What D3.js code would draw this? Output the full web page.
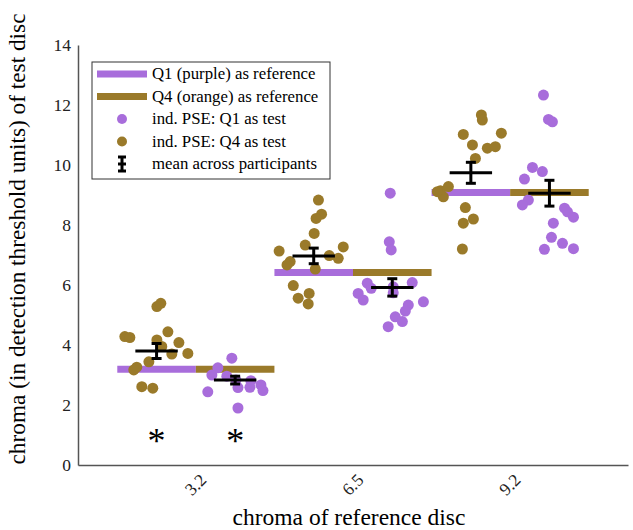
<!DOCTYPE html>
<html>
<head>
<meta charset="utf-8">
<style>
  body { margin: 0; background: #fff; }
  svg text { font-family: "Liberation Serif", "DejaVu Serif", serif !important; }
</style>
</head>
<body>
<script src="https://cdn.jsdelivr.net/npm/d3@7"></script>
<script>
// categories (chroma of reference disc)
var categories = ["3.2", "6.5", "9.2"];
// reference levels drawn as horizontal bars
var refLevels = [3.19, 6.42, 9.08];

// individual PSE, Q4 (orange) as test: value + jitter offset from category (in category units)
var q4Values = [
  [5.28, 5.39, 4.28, 4.25, 4.44, 4.17, 4.08, 3.72, 3.70, 3.95, 3.44, 3.26, 3.17, 2.61, 2.56],
  [8.83, 8.36, 8.22, 7.72, 7.33, 7.13, 7.27, 6.98, 6.89, 6.78, 6.67, 6.53, 5.98, 5.72, 5.56, 5.37],
  [11.67, 11.5, 11.02, 11.06, 10.67, 10.56, 10.61, 10.22, 9.14, 9.28, 8.94, 9.11, 8.58, 8.2, 8.06, 7.2]
];
var q4Jitter = [
  [-0.248, -0.223, -0.452, -0.42, -0.178, -0.248, -0.108, -0.051, -0.153, -0.217, -0.299, -0.376, -0.395, -0.344, -0.274],
  [-0.22, -0.20, -0.235, -0.247, -0.304, -0.47, -0.062, -0.151, -0.094, -0.40, -0.42, -0.24, -0.38, -0.279, -0.349, -0.285],
  [-0.183, -0.177, -0.298, -0.056, -0.24, -0.145, -0.094, -0.221, -0.444, -0.393, -0.425, -0.463, -0.285, -0.234, -0.298, -0.304]
];

// individual PSE, Q1 (purple) as test
var q1Values = [
  [3.56, 3.24, 3.0, 2.96, 2.44, 2.58, 2.81, 2.59, 2.67, 2.48, 1.9, 2.83],
  [9.06, 7.44, 7.17, 6.06, 5.89, 5.72, 5.5, 5.94, 5.74, 6.08, 5.44, 5.33, 5.13, 4.94, 4.78, 4.61],
  [12.33, 11.52, 11.44, 9.92, 9.78, 9.53, 8.83, 8.67, 8.56, 8.44, 8.26, 8.06, 7.59, 7.39, 7.19, 7.21]
];
var q1Jitter = [
  [0.229, 0.14, 0.102, 0.197, 0.076, 0.268, 0.35, 0.344, 0.414, 0.427, 0.268, 0.255],
  [0.237, 0.231, 0.243, 0.091, 0.116, 0.033, 0.065, 0.256, 0.256, 0.377, 0.448, 0.352, 0.333, 0.269, 0.314, 0.224],
  [0.212, 0.244, 0.269, 0.142, 0.205, 0.091, 0.116, 0.078, 0.346, 0.365, 0.403, 0.275, 0.263, 0.333, 0.218, 0.403]
];

// means across participants and error bars
var q4Mean = [3.80, 6.97, 9.74];
var q4Err = [0.25, 0.26, 0.35];
var q1Mean = [2.83, 5.92, 9.06];
var q1Err = [0.13, 0.29, 0.43];

// significance markers (category index, side)
var stars = [[0, -0.25], [0, 0.25]];

var yTicks = [0, 2, 4, 6, 8, 10, 12, 14];

var purple = "#a86ddb", gold = "#9a7a2a";
var width = 633, height = 530;
var margin = { left: 78, right: 5, top: 45, bottom: 65 };
var serif = "'Liberation Serif', 'DejaVu Serif', serif";

var svg = d3.select("body").append("svg")
  .attr("width", width).attr("height", height);

var x = d3.scaleLinear().domain([0.25, 3.75]).range([margin.left, width - margin.right]);
var y = d3.scaleLinear().domain([0, 14]).range([height - margin.bottom, margin.top]);

// axes
var xAxis = svg.append("g")
  .attr("transform", "translate(0," + y(0) + ")")
  .call(d3.axisBottom(x).tickValues([1, 2, 3]).tickFormat(function (d) { return categories[d - 1]; }).tickSize(0).tickSizeOuter(0));
xAxis.attr("font-family", serif);
xAxis.select(".domain").attr("stroke", "#555").attr("stroke-width", 1.5);
xAxis.selectAll("text")
  .style("font-family", serif)
  .attr("font-size", 17.5).attr("fill", "#222")
  .attr("text-anchor", "end")
  .attr("dy", 0)
  .attr("transform", "translate(9,14) rotate(-45)");

var yAxis = svg.append("g")
  .attr("transform", "translate(" + x(0.25) + ",0)")
  .call(d3.axisLeft(y).tickValues(yTicks).tickSize(0).tickSizeOuter(0).tickPadding(7));
yAxis.attr("font-family", serif);
yAxis.select(".domain").attr("stroke", "#555").attr("stroke-width", 1.5);
yAxis.selectAll("text").style("font-family", serif).attr("font-size", 17.5).attr("fill", "#222");

svg.append("text")
  .attr("transform", "translate(25,239) rotate(-90)")
  .attr("text-anchor", "middle")
  .attr("font-size", 23.3)
  .text("chroma (in detection threshold units) of test disc");

svg.append("text")
  .attr("x", 349).attr("y", 525)
  .attr("text-anchor", "middle")
  .attr("font-size", 23.5)
  .text("chroma of reference disc");

// reference bars
var refs = svg.append("g");
categories.forEach(function (c, i) {
  var cx = i + 1;
  refs.append("line")
    .attr("x1", x(cx - 0.5)).attr("x2", x(cx))
    .attr("y1", y(refLevels[i])).attr("y2", y(refLevels[i]))
    .attr("stroke", purple).attr("stroke-width", 7);
  refs.append("line")
    .attr("x1", x(cx)).attr("x2", x(cx + 0.5))
    .attr("y1", y(refLevels[i])).attr("y2", y(refLevels[i]))
    .attr("stroke", gold).attr("stroke-width", 7);
});

// individual dots
function dots(values, jitter, color) {
  var pts = [];
  values.forEach(function (arr, i) {
    arr.forEach(function (v, j) { pts.push({ x: i + 1 + jitter[i][j], y: v }); });
  });
  svg.append("g").selectAll("circle").data(pts).enter().append("circle")
    .attr("cx", function (d) { return x(d.x); })
    .attr("cy", function (d) { return y(d.y); })
    .attr("r", 5.5)
    .attr("fill", color);
}
dots(q4Values, q4Jitter, gold);
dots(q1Values, q1Jitter, purple);

// means with error bars
function means(m, err, side) {
  var g = svg.append("g").attr("stroke", "#000").attr("stroke-width", 3);
  m.forEach(function (v, i) {
    var cx = i + 1 + side;
    g.append("line").attr("x1", x(cx - 0.135)).attr("x2", x(cx + 0.135))
      .attr("y1", y(v)).attr("y2", y(v));
    g.append("line").attr("x1", x(cx)).attr("x2", x(cx))
      .attr("y1", y(v - err[i])).attr("y2", y(v + err[i]));
    [v - err[i], v + err[i]].forEach(function (e) {
      g.append("line").attr("x1", x(cx) - 5).attr("x2", x(cx) + 5)
        .attr("y1", y(e)).attr("y2", y(e));
    });
  });
}
means(q4Mean, q4Err, -0.25);
means(q1Mean, q1Err, 0.25);

// asterisks
svg.append("g").selectAll("text").data(stars).enter().append("text")
  .attr("x", function (d) { return x(d[0] + 1 + d[1]); })
  .attr("y", 453)
  .attr("text-anchor", "middle")
  .attr("font-size", 36)
  .text("*");

// legend
var lg = svg.append("g").attr("transform", "translate(92,62)");
lg.append("rect").attr("width", 238).attr("height", 117)
  .attr("fill", "#fff").attr("stroke", "#333").attr("stroke-width", 1);
var items = [
  { type: "line", color: purple, label: "Q1 (purple) as reference" },
  { type: "line", color: gold, label: "Q4 (orange) as reference" },
  { type: "dot", color: purple, label: "ind. PSE: Q1 as test" },
  { type: "dot", color: gold, label: "ind. PSE: Q4 as test" },
  { type: "err", color: "#000", label: "mean across participants" }
];
items.forEach(function (it, i) {
  var yy = 12 + i * 22.5;
  if (it.type === "line") {
    lg.append("line").attr("x1", 5).attr("x2", 55).attr("y1", yy).attr("y2", yy)
      .attr("stroke", it.color).attr("stroke-width", 7);
  } else if (it.type === "dot") {
    lg.append("circle").attr("cx", 30).attr("cy", yy).attr("r", 5).attr("fill", it.color);
  } else {
    var e = lg.append("g").attr("stroke", "#000").attr("stroke-width", 3);
    e.append("line").attr("x1", 30).attr("x2", 30).attr("y1", yy - 7).attr("y2", yy + 7);
    e.append("line").attr("x1", 26).attr("x2", 34).attr("y1", yy - 7).attr("y2", yy - 7);
    e.append("line").attr("x1", 26).attr("x2", 34).attr("y1", yy + 7).attr("y2", yy + 7);
    e.append("line").attr("x1", 26).attr("x2", 34).attr("y1", yy).attr("y2", yy);
  }
  lg.append("text").attr("x", 60).attr("y", yy + 5)
    .attr("font-size", 16.8).text(it.label);
});
</script>
</body>
</html>
